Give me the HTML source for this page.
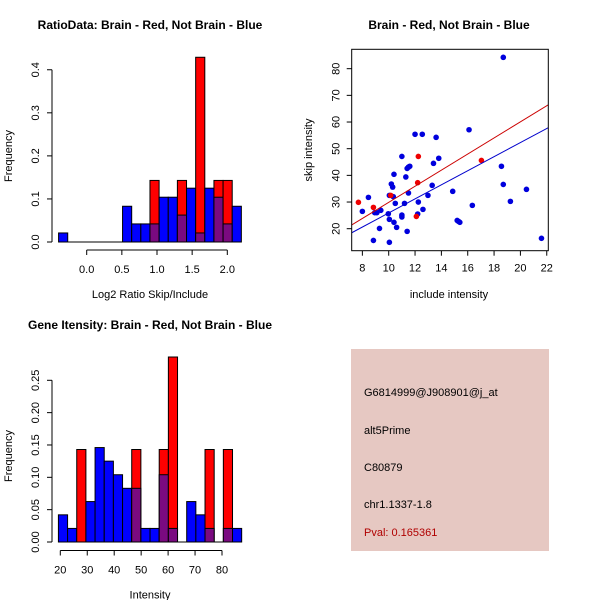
<!DOCTYPE html>
<html><head><meta charset="utf-8"><style>
html,body{margin:0;padding:0;background:#fff;}
svg{display:block;font-family:"Liberation Sans",sans-serif;}
</style></head><body>
<svg id="c" width="600" height="600" viewBox="0 0 600 600">
<rect x="0" y="0" width="600" height="600" fill="#fff"/>
<g>
<rect x="351" y="349" width="198" height="202" fill="#e6c8c2"/>
<text x="364" y="396" font-size="11" fill="#000">G6814999@J908901@j_at</text>
<text x="364" y="434" font-size="11" fill="#000">alt5Prime</text>
<text x="364" y="471" font-size="11" fill="#000">C80879</text>
<text x="364" y="508" font-size="11" fill="#000">chr1.1337-1.8</text>
<text x="364" y="536" font-size="11" fill="#b00000">Pval: 0.165361</text>
</g>
</svg>
<script>
// ---- Histogram 1 data (RatioData) ----
const ratioBinStart = -0.4;
const ratioBinWidth = 0.13;
const ratioBlue = [0.021,0,0,0,0,0,0,0.083,0.042,0.042,0.042,0.104,0.104,0.0625,0.125,0.021,0.125,0.104,0.042,0.083];
const ratioRed  = [0,0,0,0,0,0,0,0,0,0,0.143,0,0,0.143,0,0.429,0,0.143,0.143,0];
const ratioXTicks = [0.0,0.5,1.0,1.5,2.0];
const ratioYTicks = [0.0,0.1,0.2,0.3,0.4];
// ---- Histogram 2 data (Gene Intensity) ----
const intBinStart = 19.3;
const intBinWidth = 3.4;
const intBlue = [0.042,0.021,0,0.0625,0.146,0.125,0.104,0.083,0.083,0.021,0.021,0.104,0.021,0,0.0625,0.042,0.021,0,0.021,0.021];
const intRed  = [0,0,0.143,0,0,0,0,0,0.143,0,0,0.143,0.286,0,0,0,0.143,0,0.143,0];
const intXTicks = [20,30,40,50,60,70,80];
const intYTicks = [0.00,0.05,0.10,0.15,0.20,0.25];
// ---- Scatter data ----
const blueX = [8.0,8.46,8.84,8.94,9.1,9.3,9.4,9.97,10.05,10.05,10.05,10.2,10.3,10.4,10.35,10.4,10.5,10.6,11.0,11.0,11.0,11.2,11.3,11.4,11.4,11.5,11.6,11.5,12.0,12.2,12.25,12.55,12.6,12.98,13.3,13.4,13.6,13.8,14.86,15.2,15.3,15.4,16.1,16.35,18.56,18.7,18.7,19.24,20.46,21.6];
const blueY = [26.5,31.75,15.6,26,26,20.1,26.9,25.6,23.5,14.9,32.5,36.75,35.6,40.4,32,22.4,29.5,20.5,47.1,25.1,24.4,29.5,39.4,42.6,19,43.1,43.4,33.4,55.4,25.5,30,55.4,27.25,32.5,36.25,44.5,54.25,46.4,34,23.1,22.75,22.4,57.1,28.75,43.4,36.6,84.25,30.25,34.75,16.4];
const redX = [7.7,8.84,10.15,12.2,12.25,12.1,17.04];
const redY = [29.9,28,32.5,37.25,47.1,24.6,45.6];
const redFit = [-0.33,3.02];   // intercept, slope
const blueFit = [-0.5,2.64];
const scatXTicks = [8,10,12,14,16,18,20,22];
const scatYTicks = [20,30,40,50,60,70,80];

const svg = document.getElementById('c');
const NS = 'http://www.w3.org/2000/svg';
function mk(tag, attrs, parent){
  const e = document.createElementNS(NS, tag);
  for (const k in attrs) e.setAttribute(k, attrs[k]);
  (parent||svg).appendChild(e);
  return e;
}
function txt(x,y,s,size,opts,parent){
  const t = mk('text',Object.assign({x:x,y:y,'font-size':size,fill:'#000','text-anchor':'middle'},opts||{}),parent);
  t.textContent = s;
  return t;
}
function fmt(v,d){return v.toFixed(d);}

function histogram(cfg){
  const g = mk('g',{});
  
  
  const sx = v => cfg.x0px + (v - cfg.x0val) * cfg.xs;
  const sy = v => cfg.basePx - v * cfg.ys;
  const tt = txt(cfg.titleX, cfg.titleY, cfg.title, 12, {'font-weight':'bold'}, g);
  
  
  for (let i=0;i<cfg.blue.length;i++){
    const l = sx(cfg.start + i*cfg.w), r = sx(cfg.start + (i+1)*cfg.w);
    const b = cfg.blue[i], rd = cfg.red[i];
    const hi = Math.max(b, rd), lo = Math.min(b, rd);
    if (hi <= 0) continue;
    const topColor = rd >= b ? '#ff0000' : '#0000ff';
    const bar = mk('rect',{x:l,y:sy(hi),width:r-l,height:sy(0)-sy(hi),fill:topColor,stroke:'#000','stroke-width':1},g);
    
    
    if (lo > 0){
      const ov = mk('rect',{x:l,y:sy(lo),width:r-l,height:sy(0)-sy(lo),fill:'#7a0a80',stroke:'#000','stroke-width':1},g);
      
      
    }
  }
  // baseline
  mk('line',{x1:sx(cfg.start),x2:sx(cfg.start+cfg.blue.length*cfg.w),y1:sy(0),y2:sy(0),stroke:'#000'},g);
  // y axis
  const ya = mk('g',{},g);
  
  
  const yt = cfg.yTicks;
  mk('line',{x1:cfg.yAxisX,x2:cfg.yAxisX,y1:sy(yt[0]),y2:sy(yt[yt.length-1]),stroke:'#000'},ya);
  yt.forEach(v=>{
    mk('line',{x1:cfg.yAxisX-5,x2:cfg.yAxisX,y1:sy(v),y2:sy(v),stroke:'#000'},ya);
    const lx = cfg.yAxisX-13, ly = sy(v);
    txt(lx,ly,fmt(v,cfg.yDec),11,{transform:`rotate(-90 ${lx} ${ly})`},ya);
  });
  const yl = txt(cfg.yLabelX, sy(0) - (sy(0)-cfg.topPx)/2, 'Frequency', 11, {transform:`rotate(-90 ${cfg.yLabelX} ${sy(0)-(sy(0)-cfg.topPx)/2})`}, g);
  
  
  // x axis
  const xa = mk('g',{},g);
  
  
  const xt = cfg.xTicks;
  mk('line',{x1:sx(xt[0]),x2:sx(xt[xt.length-1]),y1:cfg.xAxisY,y2:cfg.xAxisY,stroke:'#000'},xa);
  xt.forEach(v=>{
    mk('line',{x1:sx(v),x2:sx(v),y1:cfg.xAxisY,y2:cfg.xAxisY+5,stroke:'#000'},xa);
    txt(sx(v),cfg.xAxisY+23,fmt(v,cfg.xDec),11,{},xa);
  });
  const xl = txt(cfg.titleX, cfg.xAxisY+48, cfg.xLabel, 11, {}, g);
  
  
}

histogram({name:'ratio-histogram',title:'RatioData: Brain - Red, Not Brain - Blue',titleX:150,titleY:29,
  blue:ratioBlue,red:ratioRed,start:ratioBinStart,w:ratioBinWidth,
  x0val:0,x0px:86.7,xs:70.3,basePx:242,ys:430.6,topPx:70,
  yAxisX:52,xAxisY:250,yTicks:ratioYTicks,xTicks:ratioXTicks,yDec:1,xDec:1,yLabelX:12,
  xLabel:'Log2 Ratio Skip/Include'});
histogram({name:'intensity-histogram',title:'Gene Itensity: Brain - Red, Not Brain - Blue',titleX:150,titleY:329,
  blue:intBlue,red:intRed,start:intBinStart,w:intBinWidth,
  x0val:20,x0px:60.3,xs:2.695,basePx:542,ys:646.8,topPx:370,
  yAxisX:52,xAxisY:550.5,yTicks:intYTicks,xTicks:intXTicks,yDec:2,xDec:0,yLabelX:12,
  xLabel:'Intensity'});

// ---- scatter ----
(function(){
  const g = mk('g',{});
  
  
  const L=351.7,R=548.3,T=49.3,B=250.7;
  const sx = v => L + (v - 7.19) * 13.17;
  const sy = v => 228.7 - (v - 20) * 2.667;
  const tt = txt(449,29,'Brain - Red, Not Brain - Blue',12,{'font-weight':'bold'},g);
  
  
  const cp = mk('clipPath',{id:'sc'},g); mk('rect',{x:L,y:T,width:R-L,height:B-T},cp);
  const pts = mk('g',{'clip-path':'url(#sc)'},g);
  blueX.forEach((x,i)=>{
    const c = mk('circle',{cx:sx(x),cy:sy(blueY[i]),r:2.8,fill:'#0000dd'},pts);
    
    
  });
  redX.forEach((x,i)=>{
    const c = mk('circle',{cx:sx(x),cy:sy(redY[i]),r:2.8,fill:'#ee0000'},pts);
    
    
  });
  const xa0 = 7.19, xa1 = 22.12;
  const rl = mk('line',{x1:sx(xa0),y1:sy(redFit[0]+redFit[1]*xa0),x2:sx(xa1),y2:sy(redFit[0]+redFit[1]*xa1),stroke:'#cc0000','stroke-width':1},pts);
  
  
  const bl = mk('line',{x1:sx(xa0),y1:sy(blueFit[0]+blueFit[1]*xa0),x2:sx(xa1),y2:sy(blueFit[0]+blueFit[1]*xa1),stroke:'#0000cc','stroke-width':1},pts);
  
  
  const fr = mk('rect',{x:L,y:T,width:R-L,height:B-T,fill:'none',stroke:'#000'},g);
  
  
  const xa = mk('g',{},g);
  
  
  scatXTicks.forEach(v=>{
    mk('line',{x1:sx(v),x2:sx(v),y1:B,y2:B+5,stroke:'#000'},xa);
    txt(sx(v),B+21,String(v),11,{},xa);
  });
  const ya = mk('g',{},g);
  
  
  scatYTicks.forEach(v=>{
    mk('line',{x1:L-5,x2:L,y1:sy(v),y2:sy(v),stroke:'#000'},ya);
    const lx=L-12, ly=sy(v);
    txt(lx,ly,String(v),11,{transform:`rotate(-90 ${lx} ${ly})`},ya);
  });
  const xl = txt(449,298,'include intensity',11,{},g);
  
  
  const yl = txt(312,150,'skip intensity',11,{transform:'rotate(-90 312 150)'},g);
  
  
})();
</script>
</body></html>
